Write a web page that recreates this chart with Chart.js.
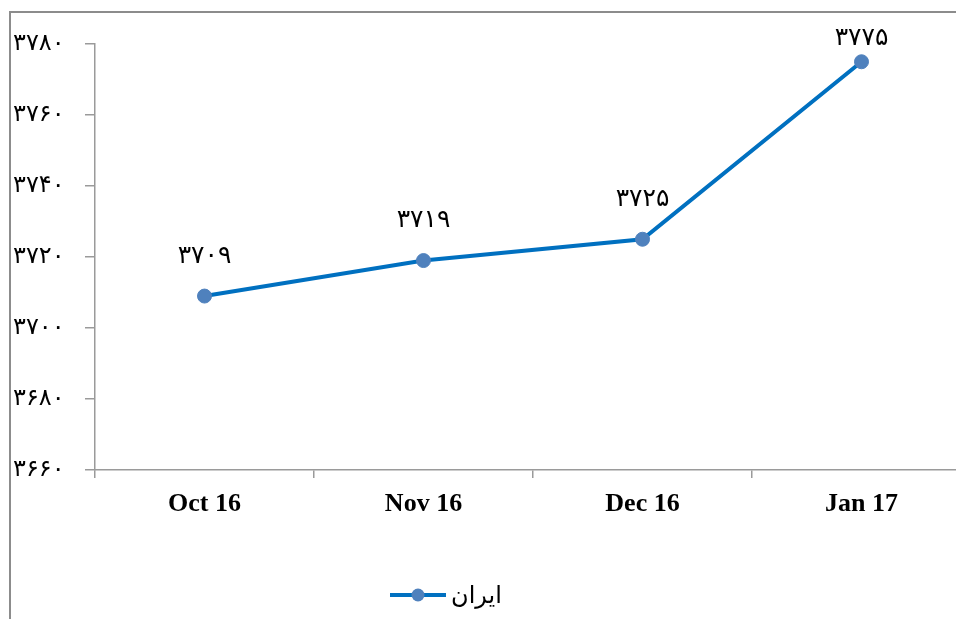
<!DOCTYPE html>
<html lang="fa">
<head>
    <meta charset="UTF-8">
    <title>ایران</title>
    <style>
        html, body {
            margin: 0;
            padding: 0;
            background: #ffffff;
            overflow: hidden;
        }
        .frame {
            position: absolute;
            left: 9px;
            top: 11px;
            width: 1000px;
            height: 700px;
            border-left: 2px solid #8c8c8c;
            border-top: 2px solid #8c8c8c;
        }
        .wrap {
            position: absolute;
            left: 0;
            top: 0;
            width: 990px;
            height: 619px;
        }
    </style>
</head>
<body>
    <div class="frame"></div>
    <div class="wrap">
        <canvas id="chart" width="990" height="619"></canvas>
    </div>

    <script src="https://cdn.jsdelivr.net/npm/chart.js"></script>
    <script>
        const categories = ['Oct 16', 'Nov 16', 'Dec 16', 'Jan 17'];
        const iranValues = [3709, 3719, 3725, 3775];
        const seriesName = 'ایران';
        const yMin = 3660;
        const yMax = 3780;
        const yStep = 20;

        const faDigits = '۰۱۲۳۴۵۶۷۸۹';
        function toFa(n) {
            return String(n).replace(/[0-9]/g, d => faDigits[d]);
        }

        const lineColor = '#0070c0';
        const pointColor = '#4f81bd';
        const axisColor = '#9a9a9a';

        // value labels above each point
        const valueLabels = {
            id: 'valueLabels',
            afterDatasetsDraw(chart) {
                const ctx = chart.ctx;
                const meta = chart.getDatasetMeta(0);
                ctx.save();
                ctx.font = '25px "DejaVu Sans"';
                ctx.fillStyle = '#000000';
                ctx.textAlign = 'center';
                ctx.textBaseline = 'middle';
                meta.data.forEach((pt, i) => {
                    const y = Math.max(pt.y - 40, 38);
                    ctx.fillText(toFa(chart.data.datasets[0].data[i]), pt.x, y);
                });
                ctx.restore();
            }
        };

        // legend: line sample with marker, then series name
        const lineLegend = {
            id: 'lineLegend',
            afterDraw(chart) {
                const ctx = chart.ctx;
                const ds = chart.data.datasets[0];
                const y = 595;
                ctx.save();
                ctx.strokeStyle = ds.borderColor;
                ctx.lineWidth = ds.borderWidth;
                ctx.beginPath();
                ctx.moveTo(390, y);
                ctx.lineTo(446, y);
                ctx.stroke();
                ctx.fillStyle = ds.pointBackgroundColor;
                ctx.beginPath();
                ctx.arc(418, y, 6.5, 0, Math.PI * 2);
                ctx.fill();
                ctx.fillStyle = '#000000';
                ctx.font = '24px "DejaVu Sans"';
                ctx.textAlign = 'left';
                ctx.textBaseline = 'middle';
                ctx.fillText(ds.label, 451, y + 2);
                ctx.restore();
            }
        };

        new Chart(document.getElementById('chart'), {
            type: 'line',
            data: {
                labels: categories,
                datasets: [{
                    label: seriesName,
                    data: iranValues,
                    borderColor: lineColor,
                    borderWidth: 4,
                    pointBackgroundColor: pointColor,
                    pointBorderColor: pointColor,
                    pointRadius: 7,
                    pointBorderWidth: 1,
                    tension: 0,
                    fill: false
                }]
            },
            options: {
                responsive: false,
                animation: false,
                layout: {
                    padding: { left: 13, right: 19, top: 44, bottom: 69 }
                },
                plugins: {
                    legend: { display: false },
                    tooltip: { enabled: false }
                },
                scales: {
                    x: {
                        offset: true,
                        grid: {
                            offset: true,
                            drawOnChartArea: false,
                            drawTicks: true,
                            tickLength: 8,
                            color: axisColor,
                            lineWidth: 1.5
                        },
                        border: { color: axisColor, width: 1.5 },
                        ticks: {
                            color: '#000000',
                            padding: 11,
                            font: { family: '"Liberation Serif", "Times New Roman", serif', size: 26, weight: 'bold' }
                        },
                        afterFit(scale) { scale.height = 80; }
                    },
                    y: {
                        min: yMin,
                        max: yMax,
                        grid: {
                            drawOnChartArea: false,
                            drawTicks: true,
                            tickLength: 10,
                            color: axisColor,
                            lineWidth: 1.5
                        },
                        border: { color: axisColor, width: 1.5 },
                        ticks: {
                            stepSize: yStep,
                            color: '#000000',
                            crossAlign: 'far',
                            padding: 4,
                            font: { family: '"DejaVu Sans"', size: 24 },
                            callback: v => toFa(v)
                        },
                        afterFit(scale) { scale.width = 82; }
                    }
                }
            },
            plugins: [valueLabels, lineLegend]
        });
    </script>
</body>
</html>
